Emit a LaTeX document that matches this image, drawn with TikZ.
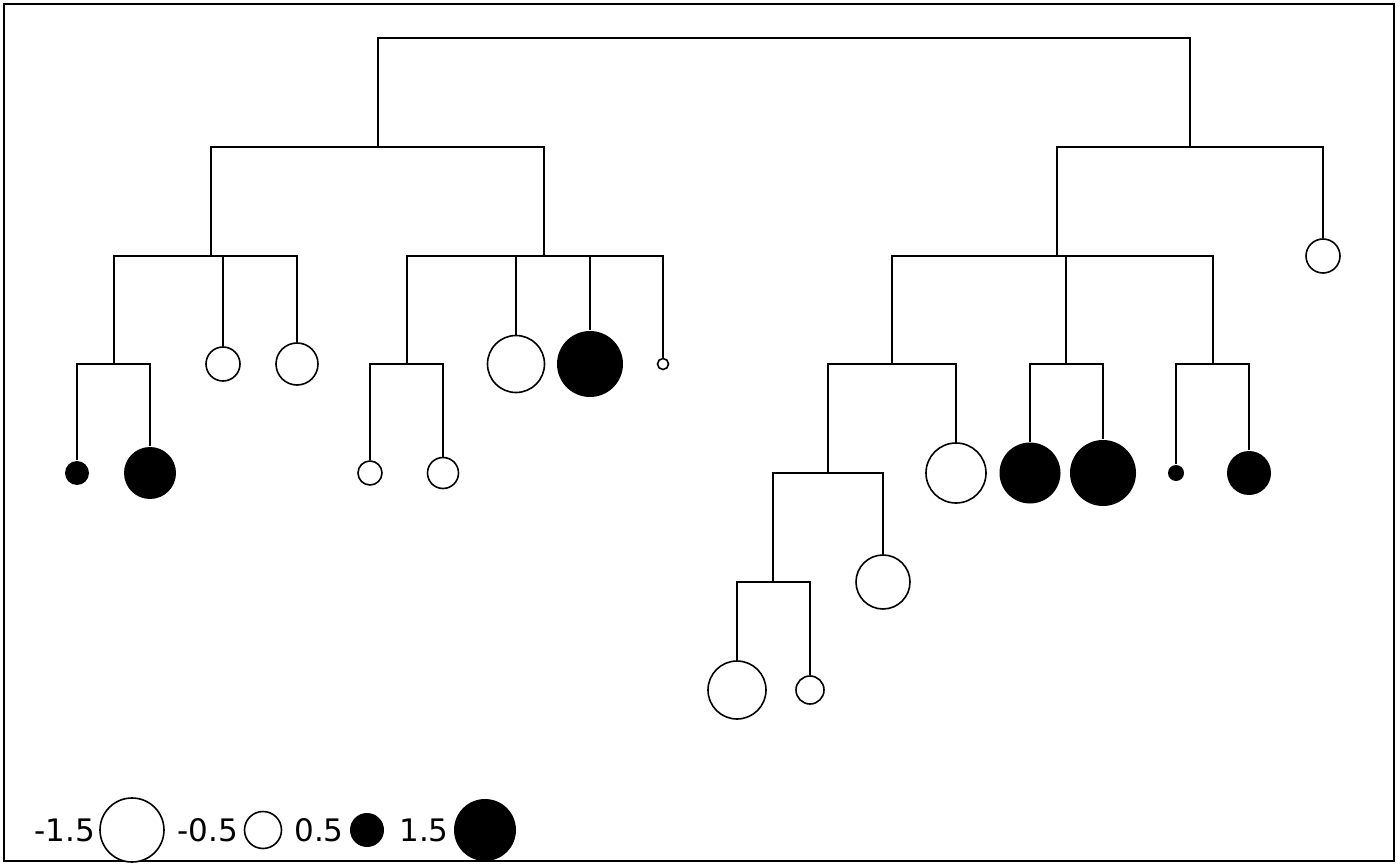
\documentclass[tikz,border=0pt]{standalone}
\usepackage{fontspec}
\setmainfont{DejaVu Sans}

\begin{document}
\begin{tikzpicture}[x=1pt,y=-1pt,line width=1.6pt,-]
    \tikzstyle{open}=[circle,draw=black,fill=white,inner sep=0pt]
    \tikzstyle{full}=[circle,fill=black,inner sep=0pt]
    \tikzstyle{key}=[font=\fontsize{31}{33}\selectfont,inner sep=0pt]
    \useasboundingbox (0,0) rectangle (1400,866);
    \draw (4,4) rectangle (1394,861);

    % inner nodes of the tree
    \foreach \name/\x/\y in {r/784/38, a/378/147, b/211/256, c/544/256, d/114/364,
                             e/407/364, f/1190/147, g/1057/256, h/892/364, k/1066/364,
                             m/1213/364, n/828/473, p/773/582}
        \coordinate (\name) at (\x,\y);

    % leaves
    \foreach \name/\x/\y/\d in {t3/223/364/34, t4/297/364/42, t5/370/473/24, t6/443/473/31,
                                t7/516/364/57, t9/663/364/11, t10/737/690/58, t11/810/690/28,
                                t12/883/582/54, t13/956/473/60, t18/1323/256/34}
        \node[open,minimum size=\d pt] (\name) at (\x,\y) {};
    \foreach \name/\x/\y/\d in {t1/77/473/24, t2/150/473/52, t8/590/364/66, t14/1030/473/61,
                                t15/1103/473/66, t16/1176/473/16, t17/1249/473/44}
        \node[full,minimum size=\d pt] (\name) at (\x,\y) {};

    \foreach \from/\to in {r/a, r/f, a/b, a/c, b/d, b/t3, b/t4, d/t1, d/t2,
                           c/e, c/t7, c/t8, c/t9, e/t5, e/t6,
                           f/g, f/t18, g/h, g/k, g/m, h/n, h/t13, k/t14, k/t15,
                           m/t16, m/t17, n/p, n/t12, p/t10, p/t11}
        \draw (\from) -| (\to);

    % legend
    \node[key] (k1) at (65,830) {-1.5};
    \node[open,minimum size=64pt] (c1) at (132,830) {};
    \node[key] (k2) at (208,830) {-0.5};
    \node[open,minimum size=37pt] (c2) at (263,830) {};
    \node[key] (k3) at (319,830) {0.5};
    \node[full,minimum size=34pt] (c3) at (367,830) {};
    \node[key] (k4) at (424,830) {1.5};
    \node[full,minimum size=62pt] (c4) at (485,830) {};
\end{tikzpicture}
\end{document}
